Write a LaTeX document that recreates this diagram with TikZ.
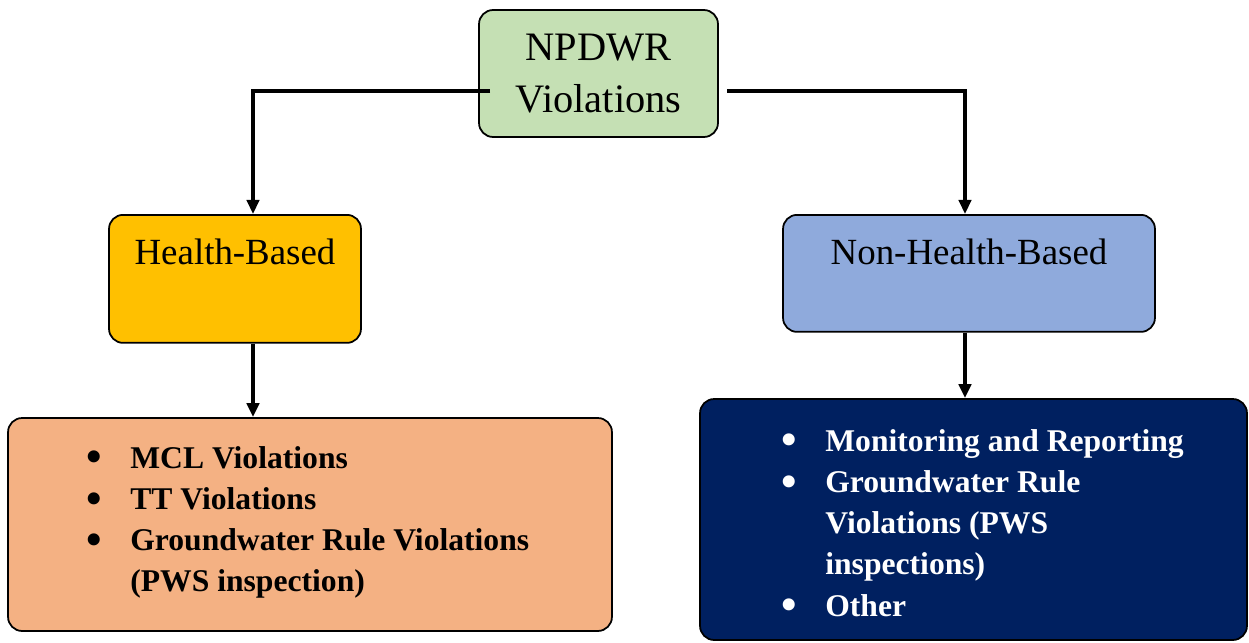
\documentclass[tikz,border=0pt]{standalone}
\usepackage{fontspec}
\setmainfont{Liberation Serif}
\usetikzlibrary{arrows.meta}
\definecolor{topgreen}{HTML}{C5E0B4}
\definecolor{hbgold}{HTML}{FFC000}
\definecolor{nhblue}{HTML}{8FAADC}
\definecolor{hsalmon}{HTML}{F4B183}
\definecolor{nhnavy}{HTML}{002060}
\newcommand{\bigbul}{\makebox[0.88cm][l]{\raisebox{-0.12em}{\scalebox{1.4}{\textbullet}}}}
\begin{document}
\begin{tikzpicture}[x=0.02cm,y=-0.02cm,
  box/.style={draw=black,line width=1pt,rounded corners=8pt,inner sep=0pt},
  conn/.style={line width=2.2pt,-{Triangle[length=8pt,width=7pt]}},
  listtext/.style={anchor=base west,inner sep=0pt,font=\fontsize{18}{23.5}\bfseries\selectfont}]
\useasboundingbox (0,0) rectangle (1249,643);
% top node
\node[box,fill=topgreen,minimum width=4.78cm,minimum height=2.54cm,align=center,
  font=\fontsize{23}{30}\selectfont] (top) at (598.5,73.5) {NPDWR\\Violations};
% middle nodes
\node[box,fill=hbgold,minimum width=5.04cm,text height=1.0cm,text depth=1.56cm,
  font=\fontsize{21}{25}\selectfont,anchor=north] (hb) at (235,214) {Health-Based};
\node[box,fill=nhblue,minimum width=7.44cm,text height=1.0cm,text depth=1.34cm,
  font=\fontsize{21}{25}\selectfont,anchor=north] (nhb) at (969,214) {Non-Health-Based};
% bottom boxes
\node[box,fill=hsalmon,minimum width=12.08cm,minimum height=4.26cm] (hl) at (310,524.5) {};
\node[box,fill=nhnavy,minimum width=10.94cm,minimum height=4.82cm] (nhl) at (973.5,519.5) {};
\node[listtext] (hltext) at (86,468) {\begin{tabular}[t]{@{}l@{}l@{}}
\bigbul & MCL Violations\\
\bigbul & TT Violations\\
\bigbul & Groundwater Rule Violations\\
 & (PWS inspection)
\end{tabular}};
\node[listtext,text=white] (nhltext) at (781,451) {\begin{tabular}[t]{@{}l@{}l@{}}
\bigbul & Monitoring and Reporting\\
\bigbul & Groundwater Rule\\
 & Violations (PWS\\
 & inspections)\\
\bigbul & Other
\end{tabular}};
% connectors
\coordinate (tl) at (490,91);
\coordinate (tr) at (727,91);
\coordinate (lx) at (253,91);
\coordinate (rx) at (965,91);
\draw[conn] (tl) -- (lx) -- (lx |- hb.north);
\draw[conn] (tr) -- (rx) -- (rx |- nhb.north);
\draw[conn] (lx |- hb.south) -- (lx |- hl.north);
\draw[conn] (rx |- nhb.south) -- (rx |- nhl.north);
\end{tikzpicture}
\end{document}
